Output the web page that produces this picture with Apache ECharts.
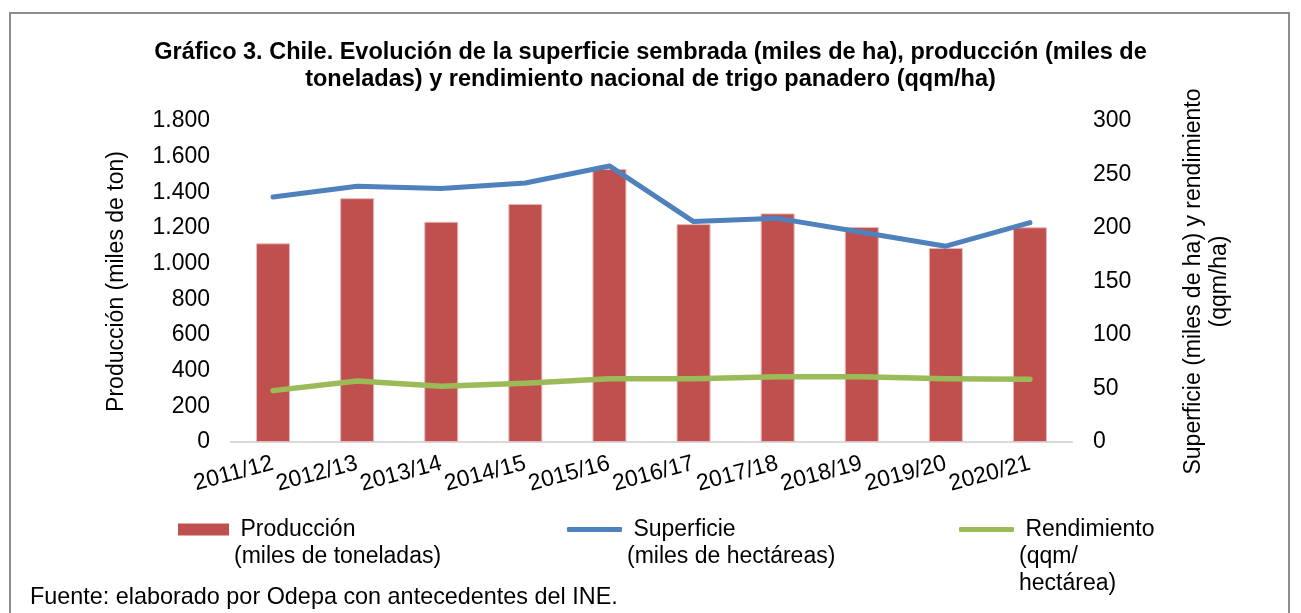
<!DOCTYPE html>
<html>
<head>
<meta charset="utf-8">
<script src="https://cdn.jsdelivr.net/npm/echarts@6/dist/echarts.min.js"></script>
<style>
  html, body { margin: 0; padding: 0; background: #fff; }
  #chart { width: 1301px; height: 613px; }
</style>
</head>
<body>
<div id="chart"></div>
<script>
// campañas
const categorias = ['2011/12', '2012/13', '2013/14', '2014/15', '2015/16', '2016/17', '2017/18', '2018/19', '2019/20', '2020/21']
// miles de toneladas (eje izquierdo)
const produccion = [1114, 1367, 1235, 1335, 1531, 1222, 1282, 1206, 1088, 1204]
// miles de ha (eje derecho)
const superficie = [229, 239, 237, 242, 258, 206, 209, 196, 183, 205]
// qqm/ha (eje derecho)
const rendimiento = [48, 57, 52, 55, 59, 59, 61, 61, 59, 58.6]

const FONT = '"Liberation Sans", Arial, sans-serif'
const FS = 23
const ROJO = '#C0504D'
const AZUL = '#4F81BD'
const VERDE = '#9BBB59'

const chart = echarts.init(document.getElementById('chart'))

// separador de miles con punto, como en el original
const miles = v => String(v).replace(/\B(?=(\d{3})+(?!\d))/g, '.')

function leyenda(nombre, left, top, icon, w, h, texto) {
  return {
    data: [nombre],
    left, top,
    orient: 'horizontal',
    padding: 0,
    icon,
    itemWidth: w,
    itemHeight: h,
    itemGap: 0,
    selectedMode: false,
    itemStyle: { borderWidth: 0 },
    formatter: () => texto,
    textStyle: { fontFamily: FONT, fontSize: FS, color: '#000', lineHeight: 27 },
  }
}

const option = {
  animation: false,
  backgroundColor: '#fff',
  textStyle: { fontFamily: FONT },
  title: [
    {
      text: 'Gráfico 3. Chile. Evolución de la superficie sembrada (miles de ha), producción (miles de\ntoneladas) y rendimiento nacional de trigo panadero (qqm/ha)',
      left: 'center',
      top: 39,
      padding: [0, 0, 0, 9],
      textStyle: { fontFamily: FONT, fontSize: 23.5, fontWeight: 'bold', color: '#000', lineHeight: 27, align: 'center' },
    },
    {
      text: 'Fuente: elaborado por Odepa con antecedentes del INE.',
      left: 30,
      top: 586,
      padding: 0,
      textStyle: { fontFamily: FONT, fontSize: 23.4, fontWeight: 'normal', color: '#000' },
    },
  ],
  legend: [
    leyenda('Producción', 178, 489, 'rect', 51, 12, '\n Producción\n(miles de toneladas)'),
    leyenda('Superficie', 567, 489, 'roundRect', 55, 5, '\n Superficie\n(miles de hectáreas)'),
    leyenda('Rendimiento', 959, 462, 'roundRect', 55, 5, '\n\n Rendimiento\n(qqm/\nhectárea)'),
  ],
  grid: { left: 231, right: 229, top: 121, bottom: 171, containLabel: false },
  xAxis: {
    type: 'category',
    data: categorias,
    axisLine: { lineStyle: { color: '#D9D9D9', width: 2 } },
    axisTick: { show: false },
    axisLabel: {
      rotate: 15,
      margin: 21,
      interval: 0,
      fontFamily: FONT,
      fontSize: FS,
      color: '#000',
    },
  },
  yAxis: [
    {
      type: 'value',
      min: 0, max: 1800, interval: 200,
      name: 'Producción (miles de ton)',
      nameLocation: 'middle',
      nameRotate: 90,
      nameGap: 103,
      nameTextStyle: { fontFamily: FONT, fontSize: FS, color: '#000' },
      splitLine: { show: false },
      axisLine: { show: false },
      axisTick: { show: false },
      axisLabel: { formatter: miles, margin: 21, fontFamily: FONT, fontSize: FS, color: '#000' },
    },
    {
      type: 'value',
      position: 'right',
      min: 0, max: 300, interval: 50,
      name: 'Superficie (miles de ha) y rendimiento\n(qqm/ha)',
      nameLocation: 'middle',
      nameRotate: 90,
      nameGap: 109,
      nameTextStyle: { fontFamily: FONT, fontSize: FS, color: '#000', lineHeight: 26 },
      splitLine: { show: false },
      axisLine: { show: false },
      axisTick: { show: false },
      axisLabel: { margin: 21, fontFamily: FONT, fontSize: FS, color: '#000' },
    },
  ],
  series: [
    {
      name: 'Producción',
      type: 'bar',
      yAxisIndex: 0,
      data: produccion,
      barWidth: 34,
      itemStyle: { color: ROJO, borderColor: '#E6B9B8', borderWidth: 1 },
    },
    {
      name: 'Superficie',
      type: 'line',
      yAxisIndex: 1,
      data: superficie,
      symbol: 'none',
      lineStyle: { color: AZUL, width: 5, cap: 'round', join: 'round' },
      itemStyle: { color: AZUL },
    },
    {
      name: 'Rendimiento',
      type: 'line',
      yAxisIndex: 1,
      data: rendimiento,
      symbol: 'none',
      lineStyle: { color: VERDE, width: 5.5, cap: 'round', join: 'round' },
      itemStyle: { color: VERDE },
    },
  ],
  graphic: [
    {
      type: 'rect',
      silent: true,
      z: -1,
      shape: { x: 10, y: 13, width: 1279, height: 640 },
      style: { fill: null, stroke: '#8C8C8C', lineWidth: 2 },
    },
  ],
}

chart.setOption(option)
window.addEventListener('resize', () => chart.resize())
</script>
</body>
</html>
